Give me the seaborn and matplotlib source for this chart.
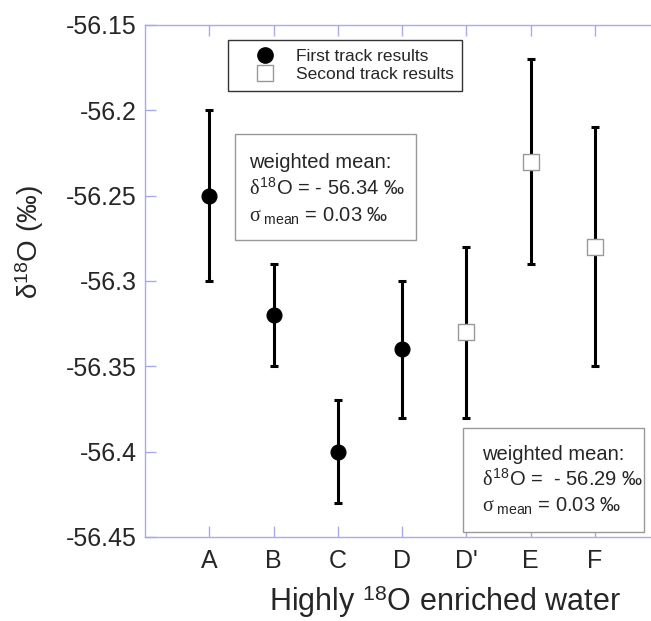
import numpy as np
import pandas as pd
import matplotlib
matplotlib.use("Agg")
import matplotlib.pyplot as plt
import seaborn as sns
from matplotlib.lines import Line2D
from matplotlib.patches import Rectangle

# data
samples = ["A", "B", "C", "D", "D'", "E", "F"]
d18o = [-56.25, -56.32, -56.40, -56.34, -56.33, -56.23, -56.28]
err = [0.05, 0.03, 0.03, 0.04, 0.05, 0.06, 0.07]
track = ["First", "First", "First", "First", "Second", "Second", "Second"]
yticks = [-56.45, -56.4, -56.35, -56.3, -56.25, -56.2, -56.15]
ytick_labels = ["-56.45", "-56.4", "-56.35", "-56.3", "-56.25", "-56.2", "-56.15"]

df = pd.DataFrame({"sample": samples, "d18o": d18o, "err": err, "track": track})
df["pos"] = np.arange(1, len(df) + 1)

sns.set_style("ticks")
plt.rcParams["font.family"] = ["Liberation Sans", "DejaVu Sans"]
plt.rcParams["mathtext.fontset"] = "custom"
plt.rcParams["mathtext.rm"] = "Liberation Sans"
plt.rcParams["mathtext.it"] = "Liberation Serif"
plt.rcParams["mathtext.bf"] = "Liberation Sans:bold"

axcol = "#a9a9f2"

fig = plt.figure(figsize=(6.51, 6.21), dpi=100)
ax = fig.add_axes([145 / 651, 84 / 621, 1 - 145 / 651, 512 / 621])

# error bars
ax.errorbar(df["pos"], df["d18o"], yerr=df["err"], fmt="none", ecolor="black",
            elinewidth=2.2, capsize=3, capthick=2.2, zorder=2)

# markers
first = df[df["track"] == "First"]
second = df[df["track"] == "Second"]
sns.scatterplot(data=first, x="pos", y="d18o", ax=ax, marker="o", s=115,
                color="black", edgecolor="black", zorder=3, legend=False)
sns.scatterplot(data=second, x="pos", y="d18o", ax=ax, marker="s", s=120,
                color="white", edgecolor="#999999", linewidth=1.0, zorder=3, legend=False)

ax.set_xlim(0, 7.87)
ax.set_ylim(-56.45, -56.15)
ax.set_xticks(df["pos"])
ax.set_xticklabels(df["sample"])
ax.set_yticks(yticks)
ax.set_yticklabels(ytick_labels)

for s in ["left", "top", "bottom"]:
    ax.spines[s].set_color(axcol)
    ax.spines[s].set_linewidth(1.0)
ax.spines["right"].set_visible(False)
ax.tick_params(axis="both", direction="in", color=axcol, length=8, width=1.0,
               labelsize=18, pad=6)
ax.tick_params(axis="x", top=True, pad=9)

ax.set_xlabel("Highly $^{18}$O enriched water", fontsize=22)
ax.xaxis.set_label_coords(0.593, -0.09)
ax.set_ylabel("δ$^{18}$O (‰)", fontsize=20)
ax.yaxis.set_label_coords(-0.196, 0.576)

# legend
handles = [
    Line2D([], [], marker="o", ls="none", color="black", markersize=11),
    Line2D([], [], marker="s", ls="none", markerfacecolor="white",
           markeredgecolor="#999999", markersize=11),
]
leg = ax.legend(handles, ["First track results", "Second track results"],
                loc="upper left", bbox_to_anchor=(0.164, 0.971), borderaxespad=0,
                fontsize=12.5, frameon=True, fancybox=False, borderpad=0.5,
                handletextpad=0.1, labelspacing=0.2, handlelength=3.3)
leg.get_frame().set_edgecolor("black")
leg.get_frame().set_linewidth(1.0)

# weighted mean boxes
ax.add_patch(Rectangle((0.178, 0.580), 0.358, 0.207, transform=ax.transAxes,
                       facecolor="white", edgecolor="#999999", linewidth=1.0, zorder=4))
ax.add_patch(Rectangle((0.628, 0.010), 0.358, 0.203, transform=ax.transAxes,
                       facecolor="white", edgecolor="#999999", linewidth=1.0, zorder=4))
ax.text(0.2055, 0.679, "weighted mean:\n$\\delta^{18}$O = - 56.34 ‰\n$\\sigma_{\\ \\mathrm{mean}}$ = 0.03 ‰",
        transform=ax.transAxes, fontsize=14.5, va="center", ha="left",
        linespacing=1.35, zorder=5)
ax.text(0.666, 0.111, "weighted mean:\n$\\delta^{18}$O =  - 56.29 ‰\n$\\sigma_{\\ \\mathrm{mean}}$ = 0.03 ‰",
        transform=ax.transAxes, fontsize=14.5, va="center", ha="left",
        linespacing=1.3, zorder=5)

fig.savefig("out.png", dpi=100)
